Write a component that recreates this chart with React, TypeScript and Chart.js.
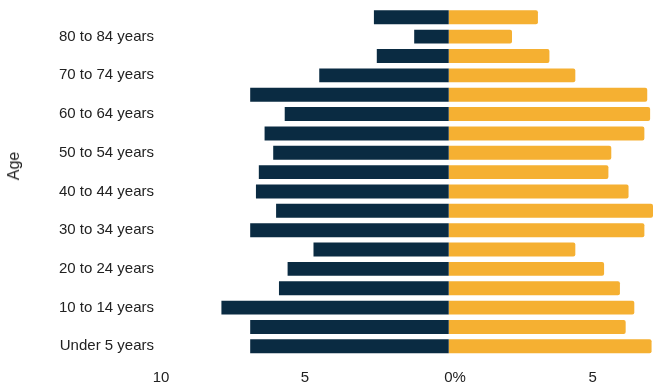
import { useEffect, useRef } from "react";
import { Chart, registerables } from "chart.js";

Chart.register(...registerables);

// Age bands, listed from the top row of the pyramid down to the bottom row
const ageGroups = [
  "85 years and over",
  "80 to 84 years",
  "75 to 79 years",
  "70 to 74 years",
  "65 to 69 years",
  "60 to 64 years",
  "55 to 59 years",
  "50 to 54 years",
  "45 to 49 years",
  "40 to 44 years",
  "35 to 39 years",
  "30 to 34 years",
  "25 to 29 years",
  "20 to 24 years",
  "15 to 19 years",
  "10 to 14 years",
  "5 to 9 years",
  "Under 5 years",
];

// Share of the population (%) in each band
const maleShare = [2.6, 1.2, 2.5, 4.5, 6.9, 5.7, 6.4, 6.1, 6.6, 6.7, 6.0, 6.9, 4.7, 5.6, 5.9, 7.9, 6.9, 6.9];
const femaleShare = [3.1, 2.2, 3.5, 4.4, 6.9, 7.0, 6.8, 5.65, 5.55, 6.25, 7.1, 6.8, 4.4, 5.4, 5.95, 6.45, 6.15, 7.05];

const xMin = -10;
const xMax = 7.1;
const xStep = 5;

const NAVY = "#0a2b42";
const GOLD = "#f5b032";
const TEXT = "#222222";
const FONT = "'Liberation Sans', Arial, sans-serif";

export default function App() {
  const canvasRef = useRef<HTMLCanvasElement | null>(null);

  useEffect(() => {
    const canvas = canvasRef.current;
    if (!canvas) return;

    const chart = new Chart(canvas, {
      type: "bar",
      data: {
        labels: ageGroups,
        datasets: [
          {
            label: "Male",
            data: maleShare.map((v) => -v),
            backgroundColor: NAVY,
            borderWidth: 0,
            borderRadius: 0,
            barPercentage: 0.72,
            categoryPercentage: 1,
          },
          {
            label: "Female",
            data: femaleShare,
            backgroundColor: GOLD,
            borderWidth: 0,
            borderRadius: 2,
            borderSkipped: "start",
            barPercentage: 0.72,
            categoryPercentage: 1,
          },
        ],
      },
      options: {
        indexAxis: "y",
        animation: false,
        responsive: true,
        maintainAspectRatio: false,
        layout: { padding: { top: 7.6, right: 0, bottom: 0, left: 0 } },
        plugins: {
          legend: { display: false },
          tooltip: { enabled: false },
        },
        scales: {
          x: {
            stacked: true,
            min: xMin,
            max: xMax,
            border: { display: false },
            grid: { display: false, drawTicks: false },
            ticks: {
              stepSize: xStep,
              includeBounds: false,
              padding: 13,
              color: TEXT,
              font: { family: FONT, size: 15 },
              maxRotation: 0,
              callback: (value: any) => {
                const v = Number(value);
                return v === 0 ? "   0%" : String(Math.abs(v));
              },
            },
            afterFit: (scale: any) => {
              scale.height = 32;
              scale.paddingLeft = 0;
              scale.paddingRight = 0;
            },
          },
          y: {
            stacked: true,
            border: { display: false },
            grid: { display: false, drawTicks: false },
            ticks: {
              autoSkip: false,
              padding: 7,
              color: TEXT,
              font: { family: FONT, size: 15 },
              callback: (_value: any, index: number) =>
                (ageGroups.length - 1 - index) % 2 === 0 ? ageGroups[index] : "",
            },
            afterFit: (scale: any) => {
              scale.width = 161;
              scale.paddingTop = 0;
              scale.paddingBottom = 0;
            },
          },
        },
      },
    });

    return () => chart.destroy();
  }, []);

  return (
    <div
      style={{
        position: "fixed",
        left: 0,
        top: 0,
        width: 653,
        height: 388,
        background: "#ffffff",
      }}
    >
      <canvas ref={canvasRef} />
      <span
        style={{
          position: "absolute",
          left: 14,
          top: 166,
          transform: "translate(-50%, -50%) rotate(-90deg)",
          fontFamily: FONT,
          fontSize: 16,
          color: TEXT,
          whiteSpace: "nowrap",
        }}
      >
        Age
      </span>
    </div>
  );
}
